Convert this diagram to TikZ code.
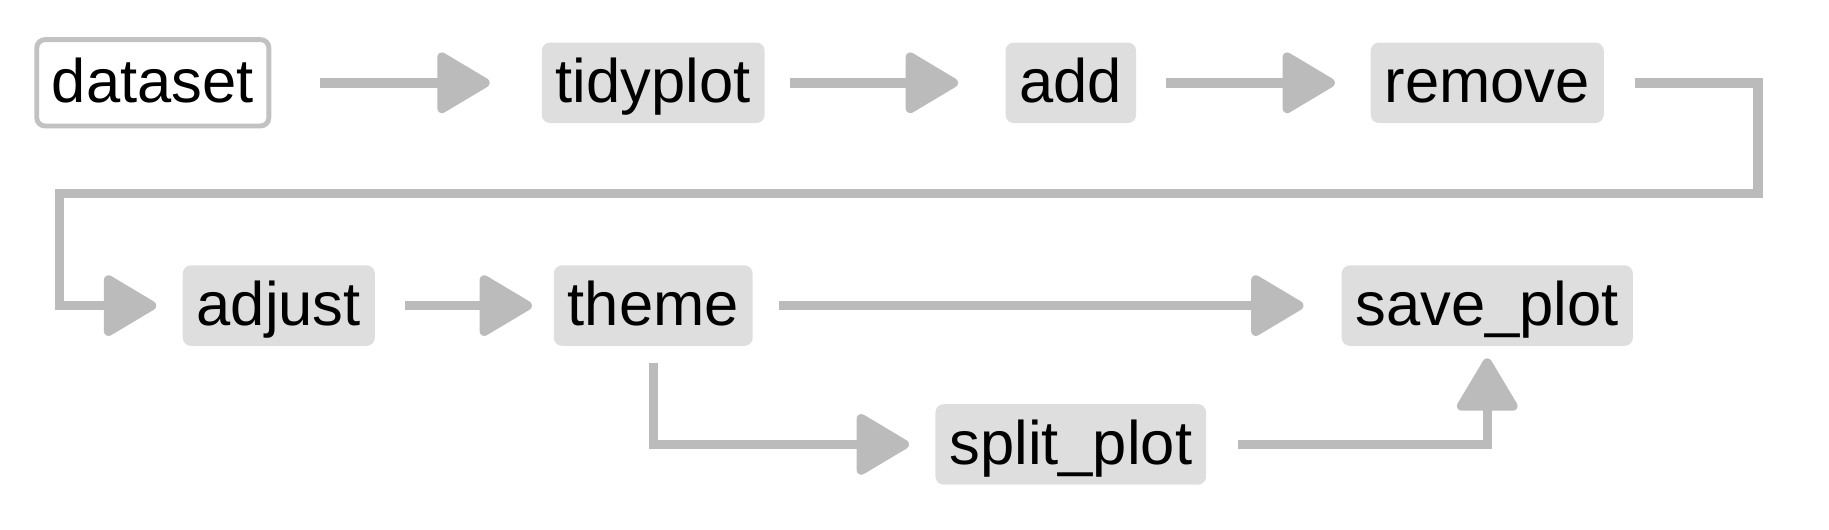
\documentclass[tikz,border=0pt]{standalone}
\usepackage{fontspec}
\setmainfont{Liberation Sans}
\usetikzlibrary{arrows.meta, positioning}
\definecolor{stepgray}{HTML}{DEDEDE}
\definecolor{linkgray}{HTML}{BBBBBB}
\definecolor{framegray}{HTML}{C2C2C2}
\tikzset{
    func/.style={
        rectangle, draw=none, fill=stepgray, rounded corners=2pt,
        minimum height=0.69cm, inner xsep=0.12cm, inner ysep=0pt,
        text height=0.40cm, text depth=0.06cm,
        font=\fontsize{15}{18}\selectfont, text=black
    },
    source/.style={
        func, fill=white, draw=framegray, line width=1.2pt,
        minimum height=0.74cm, inner xsep=0.13cm
    },
    link/.style={
        draw=linkgray, line width=2.3pt,
        -{Triangle[length=4.9mm, width=5.6mm, round]},
        shorten <=0.24cm, shorten >=0.22cm
    }
}

\begin{document}
\begin{tikzpicture}
\useasboundingbox (0,0) rectangle (15.68,4.54);

% First row
\node[source] (dataset) at (1.31,3.83) {dataset};
\node[func] (tidyplot) at (5.60,3.83) {tidyplot};
\node[func] (add) at (9.18,3.83) {add};
\node[func] (remove) at (12.75,3.83) {remove};

% Second row
\node[func] (adjust) at (2.39,1.92) {adjust};
\node[func] (theme) at (5.60,1.92) {theme};
\node[func] (save) at (12.75,1.92) {save\_plot};

% Third row
\node[func] (split) at (9.18,0.73) {split\_plot};

% Bends of the wrap-around path
\coordinate (bendR) at (15.07,2.88);
\coordinate (bendL) at (0.51,2.88);

% Connections
\draw[link, shorten <=0.42cm, shorten >=0.44cm] (dataset) -- (tidyplot);
\draw[link, shorten <=0.21cm, shorten >=0.40cm] (tidyplot) -- (add);
\draw[link, shorten <=0.25cm, shorten >=0.30cm] (add) -- (remove);
\draw[link, shorten <=0.26cm] (remove) -| (bendR) -- (bendL) |- (adjust);
\draw[link, shorten <=0.25cm, shorten >=0.18cm] (adjust) -- (theme);
\draw[link, shorten <=0.22cm, shorten >=0.32cm] (theme) -- (save);
\draw[link, shorten <=0.14cm] (theme) |- (split);
\draw[link, shorten <=0.27cm, shorten >=0.10cm] (split) -| (save);

\end{tikzpicture}
\end{document}
